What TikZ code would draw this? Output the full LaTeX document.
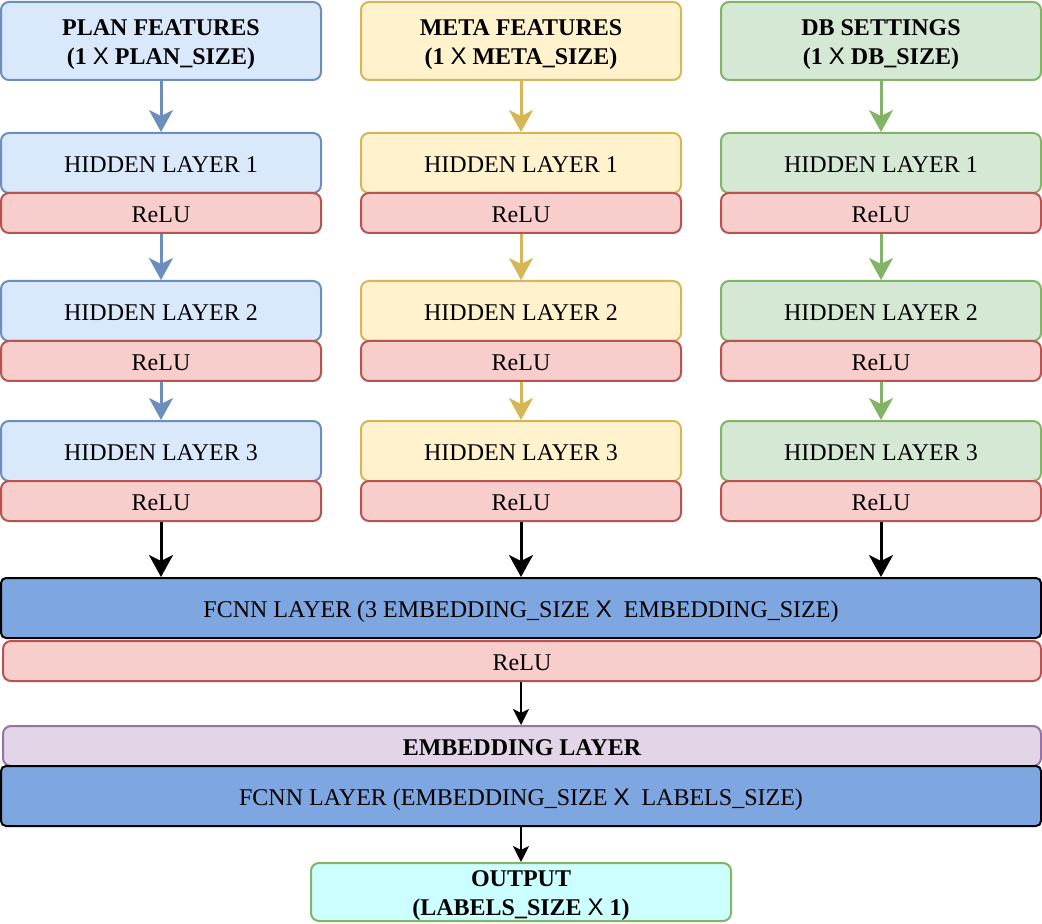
\documentclass[tikz,border=0pt]{standalone}
\usepackage{fontspec}
\setmainfont{Liberation Serif}
\newfontfamily\crossfont{Liberation Sans}
\newcommand{\byx}{{\crossfont\mdseries X}}
\usetikzlibrary{positioning,arrows.meta}

\definecolor{planfill}{HTML}{DAE8FC}
\definecolor{plandraw}{HTML}{6C8EBF}
\definecolor{metafill}{HTML}{FFF2CC}
\definecolor{metadraw}{HTML}{D6B656}
\definecolor{dbfill}{HTML}{D5E8D4}
\definecolor{dbdraw}{HTML}{82B366}
\definecolor{relufill}{HTML}{F8CECC}
\definecolor{reludraw}{HTML}{B85450}
\definecolor{fcnnfill}{HTML}{7EA6E0}
\definecolor{embfill}{HTML}{E1D5E7}
\definecolor{embdraw}{HTML}{9673A6}
\definecolor{outfill}{HTML}{CCFFFF}

\tikzset{
  box/.style={draw, line width=1pt, rounded corners=4pt, inner sep=0pt,
    align=center, font=\fontsize{12}{14.5}\selectfont, text height=11.5pt, text depth=2pt},
  inbox/.style={box, minimum width=160pt, minimum height=39pt, text height=25pt, text depth=1.5pt,
    font=\bfseries\fontsize{12}{14.5}\selectfont},
  hidbox/.style={box, minimum width=160pt, minimum height=30pt},
  relubox/.style={box, fill=relufill, draw=reludraw, minimum width=160pt, minimum height=20pt},
  widebox/.style={box, minimum width=520pt, minimum height=30pt, fill=fcnnfill, draw=black, rounded corners=2.5pt},
  flow/.style={line width=1.5pt, -{Stealth[length=11pt, width=12pt, inset=3pt]}},
  thin flow/.style={line width=1pt, -{Stealth[length=8pt, width=8pt, inset=2pt]}}
}

\begin{document}
\begin{tikzpicture}[x=0.5pt, y=-0.5pt]
  \useasboundingbox (0,0) rectangle (1042,924);

  % plan column
  \node[inbox, fill=planfill, draw=plandraw] (plan) at (161,41) {PLAN FEATURES\\(1 \byx{} PLAN\_SIZE)};
  \node[hidbox, fill=planfill, draw=plandraw] (planh1) at (161,163) {HIDDEN LAYER 1};
  \node[relubox] (planr1) at (161,213) {ReLU};
  \node[hidbox, fill=planfill, draw=plandraw] (planh2) at (161,311) {HIDDEN LAYER 2};
  \node[relubox] (planr2) at (161,361) {ReLU};
  \node[hidbox, fill=planfill, draw=plandraw] (planh3) at (161,451) {HIDDEN LAYER 3};
  \node[relubox] (planr3) at (161,501) {ReLU};

  % meta column
  \node[inbox, fill=metafill, draw=metadraw] (meta) at (521,41) {META FEATURES\\(1 \byx{} META\_SIZE)};
  \node[hidbox, fill=metafill, draw=metadraw] (metah1) at (521,163) {HIDDEN LAYER 1};
  \node[relubox] (metar1) at (521,213) {ReLU};
  \node[hidbox, fill=metafill, draw=metadraw] (metah2) at (521,311) {HIDDEN LAYER 2};
  \node[relubox] (metar2) at (521,361) {ReLU};
  \node[hidbox, fill=metafill, draw=metadraw] (metah3) at (521,451) {HIDDEN LAYER 3};
  \node[relubox] (metar3) at (521,501) {ReLU};

  % db column
  \node[inbox, fill=dbfill, draw=dbdraw] (db) at (881,41) {DB SETTINGS\\(1 \byx{} DB\_SIZE)};
  \node[hidbox, fill=dbfill, draw=dbdraw] (dbh1) at (881,163) {HIDDEN LAYER 1};
  \node[relubox] (dbr1) at (881,213) {ReLU};
  \node[hidbox, fill=dbfill, draw=dbdraw] (dbh2) at (881,311) {HIDDEN LAYER 2};
  \node[relubox] (dbr2) at (881,361) {ReLU};
  \node[hidbox, fill=dbfill, draw=dbdraw] (dbh3) at (881,451) {HIDDEN LAYER 3};
  \node[relubox] (dbr3) at (881,501) {ReLU};

  % shared layers
  \node[widebox] (fcnn) at (521,608) {FCNN LAYER (3 EMBEDDING\_SIZE \byx{}\ \ EMBEDDING\_SIZE)};
  \node[relubox, minimum width=519pt] (fcnnr) at (522,661) {ReLU};
  \node[box, fill=embfill, draw=embdraw, minimum width=519pt, minimum height=20pt,
    font=\bfseries\fontsize{12}{14.5}\selectfont] (emb) at (522,746) {EMBEDDING LAYER};
  \node[widebox] (fcnn2) at (521,796) {FCNN LAYER (EMBEDDING\_SIZE \byx{}\ \ LABELS\_SIZE)};
  \node[inbox, fill=outfill, draw=dbdraw, minimum width=210pt, minimum height=29pt] (out) at (521,892) {OUTPUT\\(LABELS\_SIZE \byx{} 1)};

  % arrows
  \draw[flow, plandraw] (plan) -- (planh1);
  \draw[flow, plandraw] (planr1) -- (planh2);
  \draw[flow, plandraw] (planr2) -- (planh3);
  \draw[flow, metadraw] (meta) -- (metah1);
  \draw[flow, metadraw] (metar1) -- (metah2);
  \draw[flow, metadraw] (metar2) -- (metah3);
  \draw[flow, dbdraw] (db) -- (dbh1);
  \draw[flow, dbdraw] (dbr1) -- (dbh2);
  \draw[flow, dbdraw] (dbr2) -- (dbh3);
  \draw[flow] (planr3) -- (planr3 |- fcnn.north);
  \draw[flow] (metar3) -- (metar3 |- fcnn.north);
  \draw[flow] (dbr3) -- (dbr3 |- fcnn.north);
  \draw[thin flow] (fcnnr.south -| out) -- (emb.north -| out);
  \draw[thin flow] (fcnn2.south -| out) -- (out);
\end{tikzpicture}
\end{document}
